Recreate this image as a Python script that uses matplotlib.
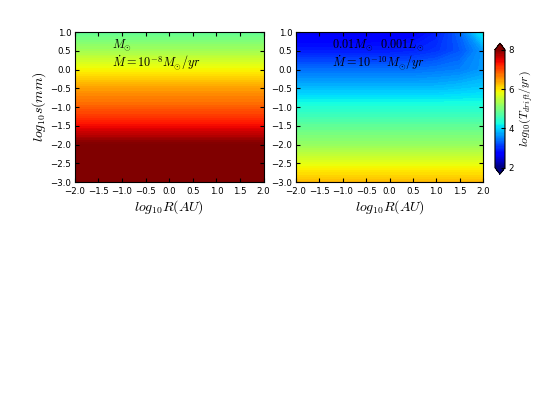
import numpy as np
import matplotlib
matplotlib.use('Agg')
import matplotlib.pyplot as plt

plt.rcParams['mathtext.fontset'] = 'cm'
plt.rcParams['xtick.direction'] = 'in'
plt.rcParams['ytick.direction'] = 'in'
plt.rcParams['xtick.top'] = True
plt.rcParams['ytick.right'] = True

# grid of log10 R (AU) and log10 s (mm)
logR = [-2.0, -1.5, -1.0, -0.5, 0.0, 0.5, 1.0, 1.5, 2.0]
logs = [1.0, 0.5, 0.0, -0.5, -1.0, -1.5, -2.0, -2.5, -3.0]

# left panel: log10 T_drift, rows = logs, columns = logR (no R dependence)
left_rows = [4.8, 5.3, 5.9, 6.45, 6.85, 7.4, 8.02, 8.6, 9.2]
T_left = [[v] * len(logR) for v in left_rows]

# right panel: brown dwarf, low accretion
T_right = [
    [2.6, 2.6, 2.6, 2.6, 2.65, 2.7, 2.9, 3.35, 4.2],
    [2.9, 2.9, 2.9, 2.9, 2.9, 2.95, 3.05, 3.25, 3.65],
    [3.4, 3.4, 3.4, 3.4, 3.4, 3.4, 3.45, 3.5, 3.65],
    [3.85, 3.85, 3.85, 3.85, 3.85, 3.85, 3.85, 3.9, 3.95],
    [4.35, 4.35, 4.35, 4.35, 4.35, 4.35, 4.35, 4.35, 4.35],
    [4.8, 4.8, 4.8, 4.8, 4.8, 4.8, 4.8, 4.8, 4.8],
    [5.2, 5.2, 5.2, 5.2, 5.2, 5.2, 5.2, 5.2, 5.2],
    [5.75, 5.75, 5.75, 5.75, 5.75, 5.75, 5.75, 5.75, 5.75],
    [6.3, 6.3, 6.3, 6.3, 6.3, 6.3, 6.3, 6.3, 6.3],
]

labels = [r'$M_{\odot}$' + '\n' + r'$\dot{M}=10^{-8}M_{\odot}/yr$',
          r'$0.01M_{\odot}\ \ 0.001L_{\odot}$' + '\n' + r'$\dot{M}=10^{-10}M_{\odot}/yr$']

levels = np.linspace(2, 8, 101)

fig = plt.figure(figsize=(5.38, 4.04), dpi=100)
ax1 = fig.add_axes([0.139, 0.5495, 0.351, 0.371])
ax2 = fig.add_axes([0.550, 0.5495, 0.348, 0.371])
cax = fig.add_axes([0.920, 0.569, 0.0186, 0.324])

for ax, T, lab in zip([ax1, ax2], [T_left, T_right], labels):
    cs = ax.contourf(logR, logs, np.array(T), levels=levels, cmap='jet', extend='both')
    ax.set_xlim(-2, 2)
    ax.set_ylim(-3, 1)
    ax.set_xticks(np.arange(-2, 2.01, 0.5))
    ax.set_yticks(np.arange(-3, 1.01, 0.5))
    ax.tick_params(labelsize=6.2, length=3)
    ax.tick_params(axis='x', pad=3.5)
    ax.tick_params(axis='y', pad=2.5)
    ax.set_xlabel(r'$log_{10}R(AU)$', fontsize=10, labelpad=2)
    ax.text(-1.22, 0.86, lab, fontsize=8.8, va='top', ha='left', linespacing=1.0)

ax1.set_ylabel(r'$log_{10}s(mm)$', fontsize=10, labelpad=2)

cb = fig.colorbar(cs, cax=cax, ticks=[2, 4, 6, 8], extendfrac=0.055)
cb.ax.tick_params(labelsize=6.2, direction='in', length=3, pad=2.5)
cb.set_label(r'$log_{10}(T_{drift}/yr)$', fontsize=8.5, labelpad=3)

fig.savefig('out.png', dpi=100)
